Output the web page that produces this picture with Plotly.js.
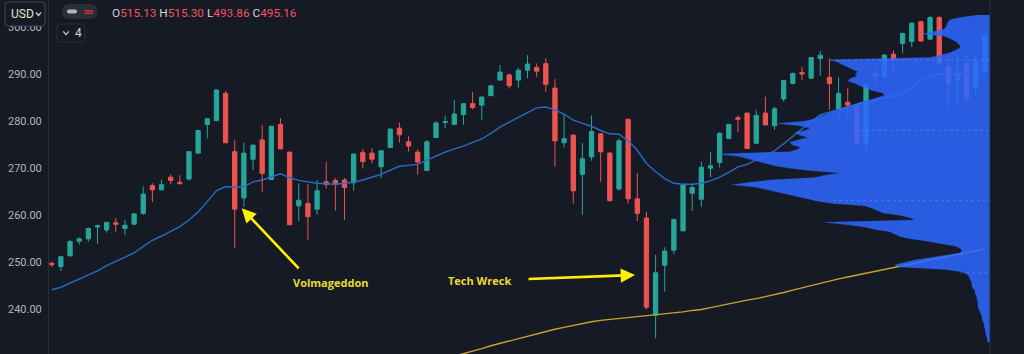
<!DOCTYPE html>
<html><head><meta charset="utf-8">
<script src="https://cdn.plot.ly/plotly-3.0.1.min.js"></script>
<style>html,body{margin:0;padding:0;background:#161a25;overflow:hidden;width:1024px;height:354px}#chart{width:1024px;height:362px}</style>
</head><body><div id="chart"></div>
<script>
// ---- weekly OHLC ----
const open = [
249.8,249.1,251.4,254.5,255.0,257.5,256.9,258.4,257.2,258.1,
260.4,266.3,265.4,268.1,267.0,267.7,273.2,279.3,280.1,285.9,
273.5,263.7,271.9,276.0,267.6,279.3,273.4,262.0,262.5,261.3,
267.1,267.4,267.5,266.9,273.3,273.2,270.3,274.4,278.5,275.6,
273.4,269.5,276.5,279.7,279.3,281.4,283.7,283.4,285.4,288.7,
289.8,288.7,290.8,291.4,292.2,287.0,275.4,277.0,268.7,272.4,
277.3,273.2,265.6,280.4,263.5,259.4,238.8,249.4,252.6,256.7,
264.7,263.4,270.0,271.2,276.3,280.7,281.7,275.3,281.7,279.0,
284.7,288.0,290.3,289.1,293.3,289.3,282.5,284.0,283.2,275.4,
290.0,289.4,294.2,296.5,296.9,301.1,297.4,302.0,291.5,288.7,
292.3,287.3,290.5];
const high = [
250.2,251.4,254.8,255.3,257.4,258.0,258.6,259.4,259.0,260.4,
266.1,266.8,267.6,268.7,268.5,273.6,278.1,280.6,286.7,286.4,
276.0,275.4,275.0,279.1,279.0,280.6,273.5,266.8,266.6,267.5,
271.3,267.9,267.9,273.2,274.1,274.2,273.8,278.4,279.7,276.8,
274.0,276.0,280.0,281.2,284.5,283.8,286.2,285.3,287.7,291.9,
290.1,291.3,294.0,292.2,293.3,288.9,281.3,277.3,275.3,281.2,
277.5,273.5,276.3,280.5,269.0,260.7,251.6,253.2,259.3,266.7,
266.6,271.4,273.5,277.6,279.4,281.2,281.8,282.4,285.2,283.1,
288.8,290.3,291.5,293.6,294.9,293.3,289.3,287.0,283.5,288.0,
291.5,294.2,295.0,298.8,300.9,301.3,302.3,302.3,293.7,294.0,
294.0,294.0,299.0];
const low = [
249.0,248.2,251.2,253.8,254.4,254.0,256.3,256.5,255.8,258.0,
260.1,262.8,265.3,266.6,266.6,267.4,273.0,276.3,280.0,275.3,
253.0,261.8,269.6,264.9,267.5,274.0,257.9,258.8,254.8,260.1,
265.7,261.0,259.0,265.2,270.0,271.0,267.9,274.3,275.4,273.5,
268.6,269.4,276.4,278.5,279.2,279.2,282.5,280.2,285.3,288.6,
286.9,287.1,289.1,289.4,286.2,270.3,274.4,262.5,260.1,271.6,
267.1,263.0,265.2,262.5,258.8,240.0,233.9,243.8,251.7,256.6,
260.9,261.8,268.1,270.1,276.2,277.6,274.1,275.2,279.1,278.1,
284.1,287.8,288.7,289.0,289.6,282.4,280.2,280.9,275.0,273.4,
287.5,288.9,290.4,294.4,295.7,296.8,297.2,291.5,282.4,282.8,
283.8,285.5,289.4];
const close = [
249.5,251.2,254.4,255.0,257.2,257.8,258.5,258.1,257.9,260.3,
264.5,265.4,266.5,267.4,266.7,273.5,278.0,280.5,286.6,275.4,
261.3,273.2,274.9,268.9,278.9,274.1,258.0,263.2,259.7,265.2,
266.5,266.5,265.9,273.0,271.4,271.9,273.7,278.3,277.1,274.7,
271.3,275.6,279.6,279.9,281.5,283.7,282.9,285.1,287.5,290.4,
287.5,290.8,292.1,290.6,287.8,275.8,276.3,265.2,272.0,277.8,
273.5,263.1,275.8,263.5,260.4,240.5,247.8,252.4,259.1,266.5,
265.9,270.2,270.5,277.4,279.3,280.4,274.2,281.2,279.2,282.6,
288.6,290.1,290.0,293.5,294.0,288.0,285.9,283.4,275.4,287.7,
289.5,294.0,293.0,298.6,300.8,297.0,302.0,292.3,288.0,290.0,
284.8,292.6,298.1];

// ---- moving averages ----
const maShort = [
244.2,244.7,245.6,246.5,247.4,248.2,249.3,250.2,251.1,252.0,
253.4,254.7,255.6,256.6,257.6,259.0,260.7,262.9,265.2,266.1,
265.9,266.1,267.1,267.5,268.2,268.8,268.0,267.4,267.1,266.8,
266.7,266.6,266.8,267.0,267.5,268.1,268.7,269.6,270.4,270.6,
270.8,271.7,272.6,273.4,274.1,274.7,275.5,276.2,277.4,278.7,
279.8,280.8,281.9,282.8,283.0,282.4,281.5,280.2,279.5,278.9,
278.0,277.3,277.2,275.8,273.8,271.0,269.3,267.8,266.8,266.6,
266.6,266.8,267.3,268.1,269.1,270.3,270.8,271.8,272.8,273.7,
275.2,276.8,278.4,279.9,281.3,281.9,282.5,283.1,283.6,284.1,
284.5,284.9,285.3,285.8,287.2,288.6,289.5,290.0,290.0,290.1,
290.4,290.9,291.3];
const maLong = [
null,null,null,null,null,null,null,null,null,null,
null,null,null,null,null,null,null,null,null,null,
null,null,null,null,null,null,null,null,null,null,
null,null,null,null,null,null,null,null,null,null,
null,null,null,null,
230.1,230.6,231.2,231.7,232.3,232.8,233.3,233.9,234.4,234.9,
235.4,235.8,236.2,236.6,237.1,237.4,237.7,237.9,238.1,238.3,
238.5,238.7,238.9,239.0,239.2,239.5,239.8,240.0,240.4,240.8,
241.2,241.7,242.0,242.3,242.7,243.1,243.6,244.1,244.6,245.1,
245.6,246.1,246.5,246.9,247.3,247.7,248.1,248.5,248.8,249.2,
249.6,250.0,250.4,250.8,251.2,251.7,252.1,252.5,252.9];

// ---- volume profile (price level, relative volume) ----
const profilePrice = [
302.5,302.0,301.5,301.0,300.5,300.0,299.5,299.0,298.5,298.0,
297.5,297.0,296.5,296.0,295.5,295.0,294.5,294.0,293.5,293.0,
292.5,292.0,291.5,291.0,290.5,290.0,289.5,289.0,288.5,288.0,
287.5,287.0,286.5,286.0,285.5,285.0,284.5,284.0,283.5,283.0,
282.5,282.0,281.5,281.0,280.5,280.0,279.5,279.0,278.5,278.0,
277.5,277.0,276.5,276.0,275.5,275.0,274.5,274.0,273.5,273.0,
272.5,272.0,271.5,271.0,270.5,270.0,269.5,269.0,268.5,268.0,
267.5,267.0,266.5,266.0,265.5,265.0,264.5,264.0,263.5,263.0,
262.5,262.0,261.5,261.0,260.5,260.0,259.5,259.0,258.5,258.0,
257.5,257.0,256.5,256.0,255.5,255.0,254.5,254.0,253.5,253.0,
252.5,252.0,251.5,251.0,250.5,250.0,249.5,249.0,248.5,248.0,
247.5,247.0,246.5,246.0,245.5,245.0,244.5,244.0,243.5,243.0,
242.5,242.0,241.5,241.0,240.5,240.0,239.5,239.0,238.5,238.0,
237.5,237.0,236.5,236.0,235.5,235.0,234.5,234.0,233.5,233.0];
const profileVolume = [
12,30,40,42,43,44,46,55,67,45,
40,35,32,30,30,35,40,50,60,160,
152,148,142,138,132,135,133,140,142,135,
130,125,118,108,105,112,120,130,135,145,
150,158,162,170,175,185,212,190,180,185,
195,190,182,192,200,198,190,192,200,272,
250,242,232,225,215,200,180,150,165,175,
220,240,258,235,225,213,202,193,182,172,
157,125,118,113,107,90,80,75,165,142,
125,115,100,95,90,80,62,50,35,30,
28,30,45,58,75,85,95,90,45,28,
23,21,20,19,18,18,17,15,15,14,
13,13,12,12,12,11,10,9,8,8,
7,6,6,5,5,4,4,3,3,2];

// ---- axis ticks ----
const yTicks = [230,240,250,260,270,280,290,300];
const yTickLabels = ['230.00','240.00','250.00','260.00','270.00','280.00','290.00','300.00'];

// ---- value-area lines & header ----
const valueAreaLevels = [293.0,278.0,263.1,247.8];
const headerLabels = ['O','H','L','C'];
const headerValues = ['515.13','515.30','493.86','495.16'];

const weeks = open.map((_, i) => i);

const W = 1024, H = 362, L = 49, R = 34;
const PW = W - L - R;
const px = x => (x - L) / PW;
const py = y => 1 - y / H;
function rr(x0, y0, x1, y1, r) {
  const X = v => px(v).toFixed(5), Y = v => py(v).toFixed(5);
  return `M${X(x0+r)},${Y(y0)} L${X(x1-r)},${Y(y0)} Q${X(x1)},${Y(y0)} ${X(x1)},${Y(y0+r)} L${X(x1)},${Y(y1-r)} Q${X(x1)},${Y(y1)} ${X(x1-r)},${Y(y1)} L${X(x0+r)},${Y(y1)} Q${X(x0)},${Y(y1)} ${X(x0)},${Y(y1-r)} L${X(x0)},${Y(y0+r)} Q${X(x0)},${Y(y0)} ${X(x0+r)},${Y(y0)} Z`;
}
function chev(xc, yc, w, h) {
  const X = v => px(v).toFixed(5), Y = v => py(v).toFixed(5);
  return `M${X(xc-w)},${Y(yc-h)} L${X(xc)},${Y(yc+h)} L${X(xc+w)},${Y(yc-h)}`;
}

const traces = [
  {type:'candlestick', x:weeks, open:open, high:high, low:low, close:close,
   xaxis:'x', yaxis:'y', whiskerwidth:0, hoverinfo:'skip',
   increasing:{line:{color:'#26a69a', width:1}, fillcolor:'#26a69a'},
   decreasing:{line:{color:'#ef5350', width:1}, fillcolor:'#ef5350'}},
  {type:'scatter', mode:'lines', x:weeks, y:maShort, xaxis:'x', yaxis:'y',
   line:{color:'#2a6cc4', width:1.4}, hoverinfo:'skip'},
  {type:'scatter', mode:'lines', x:weeks, y:maLong, xaxis:'x', yaxis:'y',
   line:{color:'#c9a231', width:1.4}, hoverinfo:'skip'},
  // volume profile: filled outline of the per-level volumes, anchored at the right edge
  {type:'scatter', mode:'lines', y:profilePrice, x:profileVolume, fill:'tozerox',
   xaxis:'x2', yaxis:'y', line:{color:'rgba(44,104,255,0.5)', width:0.5, shape:'linear'},
   fillcolor:'rgba(44,104,255,0.86)', hoverinfo:'skip'}
];

const vaStarts = [830, 860, 833, 960];
const shapes = [
  {type:'line', xref:'paper', yref:'paper', x0:1, x1:1, y0:0, y1:1, line:{color:'#2a2e39', width:1}, layer:'above'},
  // USD box
  {type:'path', xref:'paper', yref:'paper', path:rr(5,2,45,26,3), fillcolor:'#161a25', line:{color:'#434651', width:1}, layer:'above'},
  {type:'path', xref:'paper', yref:'paper', path:chev(38.5,14,2.5,1.5), line:{color:'#d1d4dc', width:1.2}, layer:'above'},
  // pill
  {type:'path', xref:'paper', yref:'paper', path:rr(62,4,97,19,7), fillcolor:'#2a2e39', line:{width:0}, layer:'above'},
  {type:'path', xref:'paper', yref:'paper', path:rr(67,9.5,77,13.5,2), fillcolor:'#b2b5be', line:{width:0}, layer:'above'},
  // "4" box
  {type:'path', xref:'paper', yref:'paper', path:rr(57,24,85,42,3), fillcolor:'rgba(0,0,0,0)', line:{color:'#2a2e39', width:1}, layer:'above'},
  {type:'path', xref:'paper', yref:'paper', path:chev(66,33,2.8,1.6), line:{color:'#d1d4dc', width:1.2}, layer:'above'}
];
valueAreaLevels.forEach((v, k) => shapes.push({type:'line', xref:'paper', yref:'y',
  x0:px(vaStarts[k]), x1:1, y0:v, y1:v, line:{color:'rgba(190,205,255,0.22)', width:1, dash:'dot'}, layer:'above'}));

let ohlc = headerLabels.map((l, k) => `${l}<span style="color:#f7525f">${headerValues[k]}</span>`).join(' ');

const annotations = [
  {xref:'paper', yref:'paper', x:px(9), y:py(14), xanchor:'left', yanchor:'middle', text:'USD', showarrow:false,
   font:{family:'Roboto, sans-serif', size:12, color:'#e6e0c8'}},
  {xref:'paper', yref:'paper', x:px(88), y:py(11.5), xanchor:'center', yanchor:'middle', text:'≈', showarrow:false,
   font:{family:'DejaVu Sans, sans-serif', size:13, color:'#f23645'}},
  {xref:'paper', yref:'paper', x:px(73), y:py(33), xanchor:'left', yanchor:'middle', text:'4', showarrow:false,
   font:{family:'Roboto, sans-serif', size:12, color:'#d1d4dc'}},
  {xref:'paper', yref:'paper', x:px(110), y:py(13), xanchor:'left', yanchor:'middle', text:ohlc, showarrow:false,
   font:{family:'Roboto, sans-serif', size:11.8, color:'#d1d4dc'}},
  // Volmageddon
  {xref:'x', yref:'y', x:20.77, y:261.5, axref:'x', ayref:'y', ax:27.14, ay:248.4, text:'', showarrow:true,
   arrowhead:2, arrowsize:1.1, arrowwidth:2.6, arrowcolor:'#fff200', standoff:0, startstandoff:0},
  {xref:'x', yref:'y', x:30.42, y:245.63, text:'<b>Volmageddon</b>', showarrow:false, xanchor:'center', yanchor:'middle',
   font:{family:'Open Sans, sans-serif', size:11, color:'#ecd92f'}},
  // Tech Wreck
  {xref:'x', yref:'y', x:63.75, y:247.32, axref:'x', ayref:'y', ax:51.95, ay:246.47, text:'', showarrow:true,
   arrowhead:2, arrowsize:1.1, arrowwidth:2.6, arrowcolor:'#fff200', standoff:0, startstandoff:0},
  {xref:'x', yref:'y', x:46.7, y:246.26, text:'<b>Tech Wreck</b>', showarrow:false, xanchor:'center', yanchor:'middle',
   font:{family:'Open Sans, sans-serif', size:11, color:'#ecd92f'}}
];

const layout = {
  width:W, height:H, margin:{l:L, r:R, t:0, b:0, pad:0},
  paper_bgcolor:'#161a25', plot_bgcolor:'#161a25',
  showlegend:false, hovermode:false, dragmode:false,
  boxgap:0.33,
  xaxis:{range:[-0.3,102.55], visible:false, rangeslider:{visible:false}, fixedrange:true},
  xaxis2:{overlaying:'x', range:[941,0], visible:false, fixedrange:true},
  yaxis:{range:[228.85,305.71], tickvals:yTicks, ticktext:yTickLabels, showgrid:false, zeroline:false,
    showline:true, linecolor:'#2a2e39', linewidth:1, ticks:'outside', ticklen:4, tickcolor:'rgba(0,0,0,0)',
    tickfont:{family:'Roboto, sans-serif', size:11, color:'#b2b5be'}, fixedrange:true},
  shapes:shapes, annotations:annotations
};

Plotly.newPlot('chart', traces, layout, {staticPlot:true, displayModeBar:false});
</script></body></html>
